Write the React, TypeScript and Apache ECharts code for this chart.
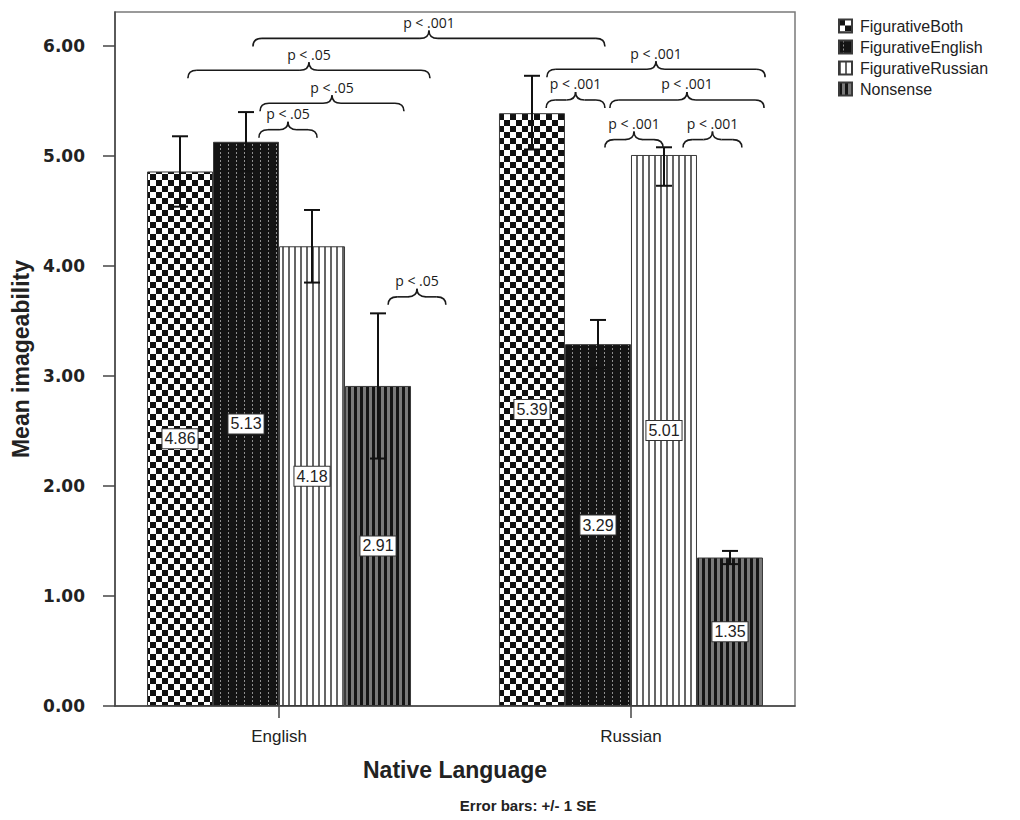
import React, { useEffect, useRef } from "react";
import * as echarts from "echarts";

// ---- data ----
const categories = ["English", "Russian"];
const seriesNames = ["FigurativeBoth", "FigurativeEnglish", "FigurativeRussian", "Nonsense"];

const figurativeBoth = [4.86, 5.39];
const figurativeEnglish = [5.13, 3.29];
const figurativeRussian = [4.18, 5.01];
const nonsense = [2.91, 1.35];

// error bar ends (+/- 1 SE)
const figurativeBothLow = [4.54, 5.06];
const figurativeBothHigh = [5.18, 5.73];
const figurativeEnglishLow = [4.86, 3.07];
const figurativeEnglishHigh = [5.4, 3.51];
const figurativeRussianLow = [3.85, 4.73];
const figurativeRussianHigh = [4.51, 5.08];
const nonsenseLow = [2.25, 1.29];
const nonsenseHigh = [3.57, 1.41];

const yTicks = [0, 1, 2, 3, 4, 5, 6];

// significance braces (x in category units, level in y units)
const braceStart = [-0.057, -0.054, -0.259, -0.074, 0.31, 0.761, 0.759, 0.94, 0.926, 1.148];
const braceEnd = [0.108, 0.355, 0.429, 0.926, 0.474, 1.381, 0.926, 1.378, 1.091, 1.315];
const braceLevel = [5.24, 5.48, 5.78, 6.07, 3.72, 5.79, 5.51, 5.51, 5.15, 5.15];
const braceText = ["p < .05", "p < .05", "p < .05", "p < .001", "p < .05", "p < .001", "p < .001", "p < .001", "p < .001", "p < .001"];

const values = [figurativeBoth, figurativeEnglish, figurativeRussian, nonsense];
const lows = [figurativeBothLow, figurativeEnglishLow, figurativeRussianLow, nonsenseLow];
const highs = [figurativeBothHigh, figurativeEnglishHigh, figurativeRussianHigh, nonsenseHigh];

const BAR_W = 66;
const SANS = "'Liberation Sans', Arial, sans-serif";

function makePattern(w: number, h: number, draw: (ctx: CanvasRenderingContext2D) => void) {
  const c = document.createElement("canvas");
  c.width = w;
  c.height = h;
  const ctx = c.getContext("2d") as CanvasRenderingContext2D;
  draw(ctx);
  return { image: c, repeat: "repeat", imageWidth: w, imageHeight: h } as any;
}

export default function App() {
  const ref = useRef<HTMLDivElement>(null);

  useEffect(() => {
    if (!ref.current) return;
    const chart = echarts.init(ref.current, null, { renderer: "svg" });

    const patterns = [
      makePattern(12, 12, (ctx) => {
        ctx.fillStyle = "#fff";
        ctx.fillRect(0, 0, 12, 12);
        ctx.fillStyle = "#111";
        ctx.fillRect(0, 0, 6, 6);
        ctx.fillRect(6, 6, 6, 6);
      }),
      makePattern(8, 4, (ctx) => {
        ctx.fillStyle = "#141414";
        ctx.fillRect(0, 0, 8, 4);
        ctx.fillStyle = "#909090";
        ctx.fillRect(4, 0, 1, 2);
      }),
      makePattern(6, 6, (ctx) => {
        ctx.fillStyle = "#fff";
        ctx.fillRect(0, 0, 6, 6);
        ctx.fillStyle = "#666";
        ctx.fillRect(0, 0, 2, 6);
      }),
      makePattern(6, 6, (ctx) => {
        ctx.fillStyle = "#7a7a7a";
        ctx.fillRect(0, 0, 6, 6);
        ctx.fillStyle = "#151515";
        ctx.fillRect(0, 0, 3, 6);
      }),
    ];

    const barSeries = seriesNames.map((name, i) => ({
      name,
      type: "bar",
      data: categories.map((_, j) => [j, values[i][j]]),
      barWidth: BAR_W,
      barGap: "0%",
      z: 2,
      itemStyle: { color: patterns[i], borderColor: "#3a3a3a", borderWidth: 1 },
      label: {
        show: true,
        position: "inside",
        formatter: (p: any) => p.value[1].toFixed(2),
        backgroundColor: "#fff",
        borderColor: "#333",
        borderWidth: 1,
        padding: [2, 2, 1, 2],
        fontSize: 16,
        fontFamily: SANS,
        color: "#222",
      },
    }));

    const errData: number[][] = [];
    seriesNames.forEach((_, i) => {
      categories.forEach((__, j) => {
        errData.push([j, lows[i][j], highs[i][j], i]);
      });
    });

    const braceData = braceStart.map((s, k) => [s, braceEnd[k], braceLevel[k], k]);

    const option: any = {
      animation: false,
      backgroundColor: "#fff",
      grid: {
        left: 115,
        top: 12,
        right: 225,
        bottom: 114,
        show: true,
        borderColor: "#7a7a7a",
        borderWidth: 1.5,
      },
      legend: {
        orient: "vertical",
        left: 833,
        top: 13,
        itemWidth: 13,
        itemHeight: 13,
        itemGap: 5,
        icon: "rect",
        data: seriesNames,
        textStyle: { fontSize: 16, fontFamily: SANS, color: "#222", padding: [0, 0, 0, 3] },
      },
      xAxis: {
        type: "value",
        min: -0.466,
        max: 1.466,
        splitLine: { show: false },
        axisLine: { show: true, onZero: false, lineStyle: { color: "#444", width: 1.5 } },
        axisTick: { show: true, customValues: [0, 1], length: 12, lineStyle: { color: "#444", width: 1.5 } },
        axisLabel: {
          customValues: [0, 1],
          formatter: (v: number) => categories[Math.round(v)],
          fontSize: 17,
          fontFamily: SANS,
          color: "#222",
          margin: 22,
        },
        name: "Native Language",
        nameLocation: "middle",
        nameGap: 52,
        nameTextStyle: { fontSize: 23, fontWeight: "bold", fontFamily: SANS, color: "#222" },
      },
      yAxis: {
        type: "value",
        min: 0,
        max: 6.31,
        interval: 1,
        splitLine: { show: false },
        axisLine: { show: true, onZero: false, lineStyle: { color: "#444", width: 1.5 } },
        axisTick: { show: true, customValues: yTicks, length: 12, lineStyle: { color: "#444", width: 1.5 } },
        axisLabel: {
          customValues: yTicks,
          formatter: (v: number) => v.toFixed(2),
          fontSize: 17,
          fontWeight: "bold",
          fontFamily: "'DejaVu Sans', sans-serif",
          color: "#222",
          margin: 30,
        },
        name: "Mean imageability",
        nameLocation: "middle",
        nameGap: 79,
        nameRotate: 90,
        nameTextStyle: { fontSize: 23, fontWeight: "bold", fontFamily: SANS, color: "#222" },
      },
      graphic: [
        {
          type: "text",
          x: 528,
          y: 805,
          style: {
            text: "Error bars: +/- 1 SE",
            font: "bold 15px 'Liberation Sans', Arial, sans-serif",
            fill: "#222",
            textAlign: "center",
            textVerticalAlign: "middle",
          },
        },
      ],
      series: [
        ...barSeries,
        {
          type: "custom",
          name: "errors",
          z: 5,
          silent: true,
          data: errData,
          renderItem: (params: any, api: any) => {
            const s = api.value(3);
            const x = api.value(0);
            const cx = api.coord([x, 0])[0] + (s - 1.5) * BAR_W;
            const lo = api.coord([x, api.value(1)])[1];
            const hi = api.coord([x, api.value(2)])[1];
            const st = { stroke: "#111", lineWidth: 2 };
            return {
              type: "group",
              children: [
                { type: "line", shape: { x1: cx, y1: hi, x2: cx, y2: lo }, style: st },
                { type: "line", shape: { x1: cx - 8, y1: hi, x2: cx + 8, y2: hi }, style: st },
                { type: "line", shape: { x1: cx - 8, y1: lo, x2: cx + 8, y2: lo }, style: st },
              ],
            };
          },
        },
        {
          type: "custom",
          name: "braces",
          z: 6,
          silent: true,
          data: braceData,
          renderItem: (params: any, api: any) => {
            const p1 = api.coord([api.value(0), api.value(2)]);
            const p2 = api.coord([api.value(1), api.value(2)]);
            const k = api.value(3);
            const x1 = p1[0];
            const x2 = p2[0];
            const y = p1[1];
            const xm = (x1 + x2) / 2;
            const h = 8;
            const r = 9;
            const st = { stroke: "#1a1a1a", lineWidth: 1.6, fill: null };
            return {
              type: "group",
              children: [
                { type: "bezierCurve", shape: { x1: x1, y1: y + h, cpx1: x1, cpy1: y, x2: x1 + r, y2: y }, style: st },
                { type: "line", shape: { x1: x1 + r, y1: y, x2: xm - r, y2: y }, style: st },
                { type: "bezierCurve", shape: { x1: xm - r, y1: y, cpx1: xm, cpy1: y, x2: xm, y2: y - h }, style: st },
                { type: "bezierCurve", shape: { x1: xm, y1: y - h, cpx1: xm, cpy1: y, x2: xm + r, y2: y }, style: st },
                { type: "line", shape: { x1: xm + r, y1: y, x2: x2 - r, y2: y }, style: st },
                { type: "bezierCurve", shape: { x1: x2 - r, y1: y, cpx1: x2, cpy1: y, x2: x2, y2: y + h }, style: st },
                {
                  type: "text",
                  style: {
                    text: braceText[k],
                    x: xm,
                    y: y - h - 1,
                    textAlign: "center",
                    textVerticalAlign: "bottom",
                    font: "14px 'Open Sans', sans-serif",
                    fill: "#1a1a1a",
                  },
                },
              ],
            };
          },
        },
      ],
    };

    chart.setOption(option);
    return () => chart.dispose();
  }, []);

  return (
    <div
      ref={ref}
      style={{ position: "fixed", left: 0, top: 0, width: 1020, height: 820, background: "#fff" }}
    />
  );
}
